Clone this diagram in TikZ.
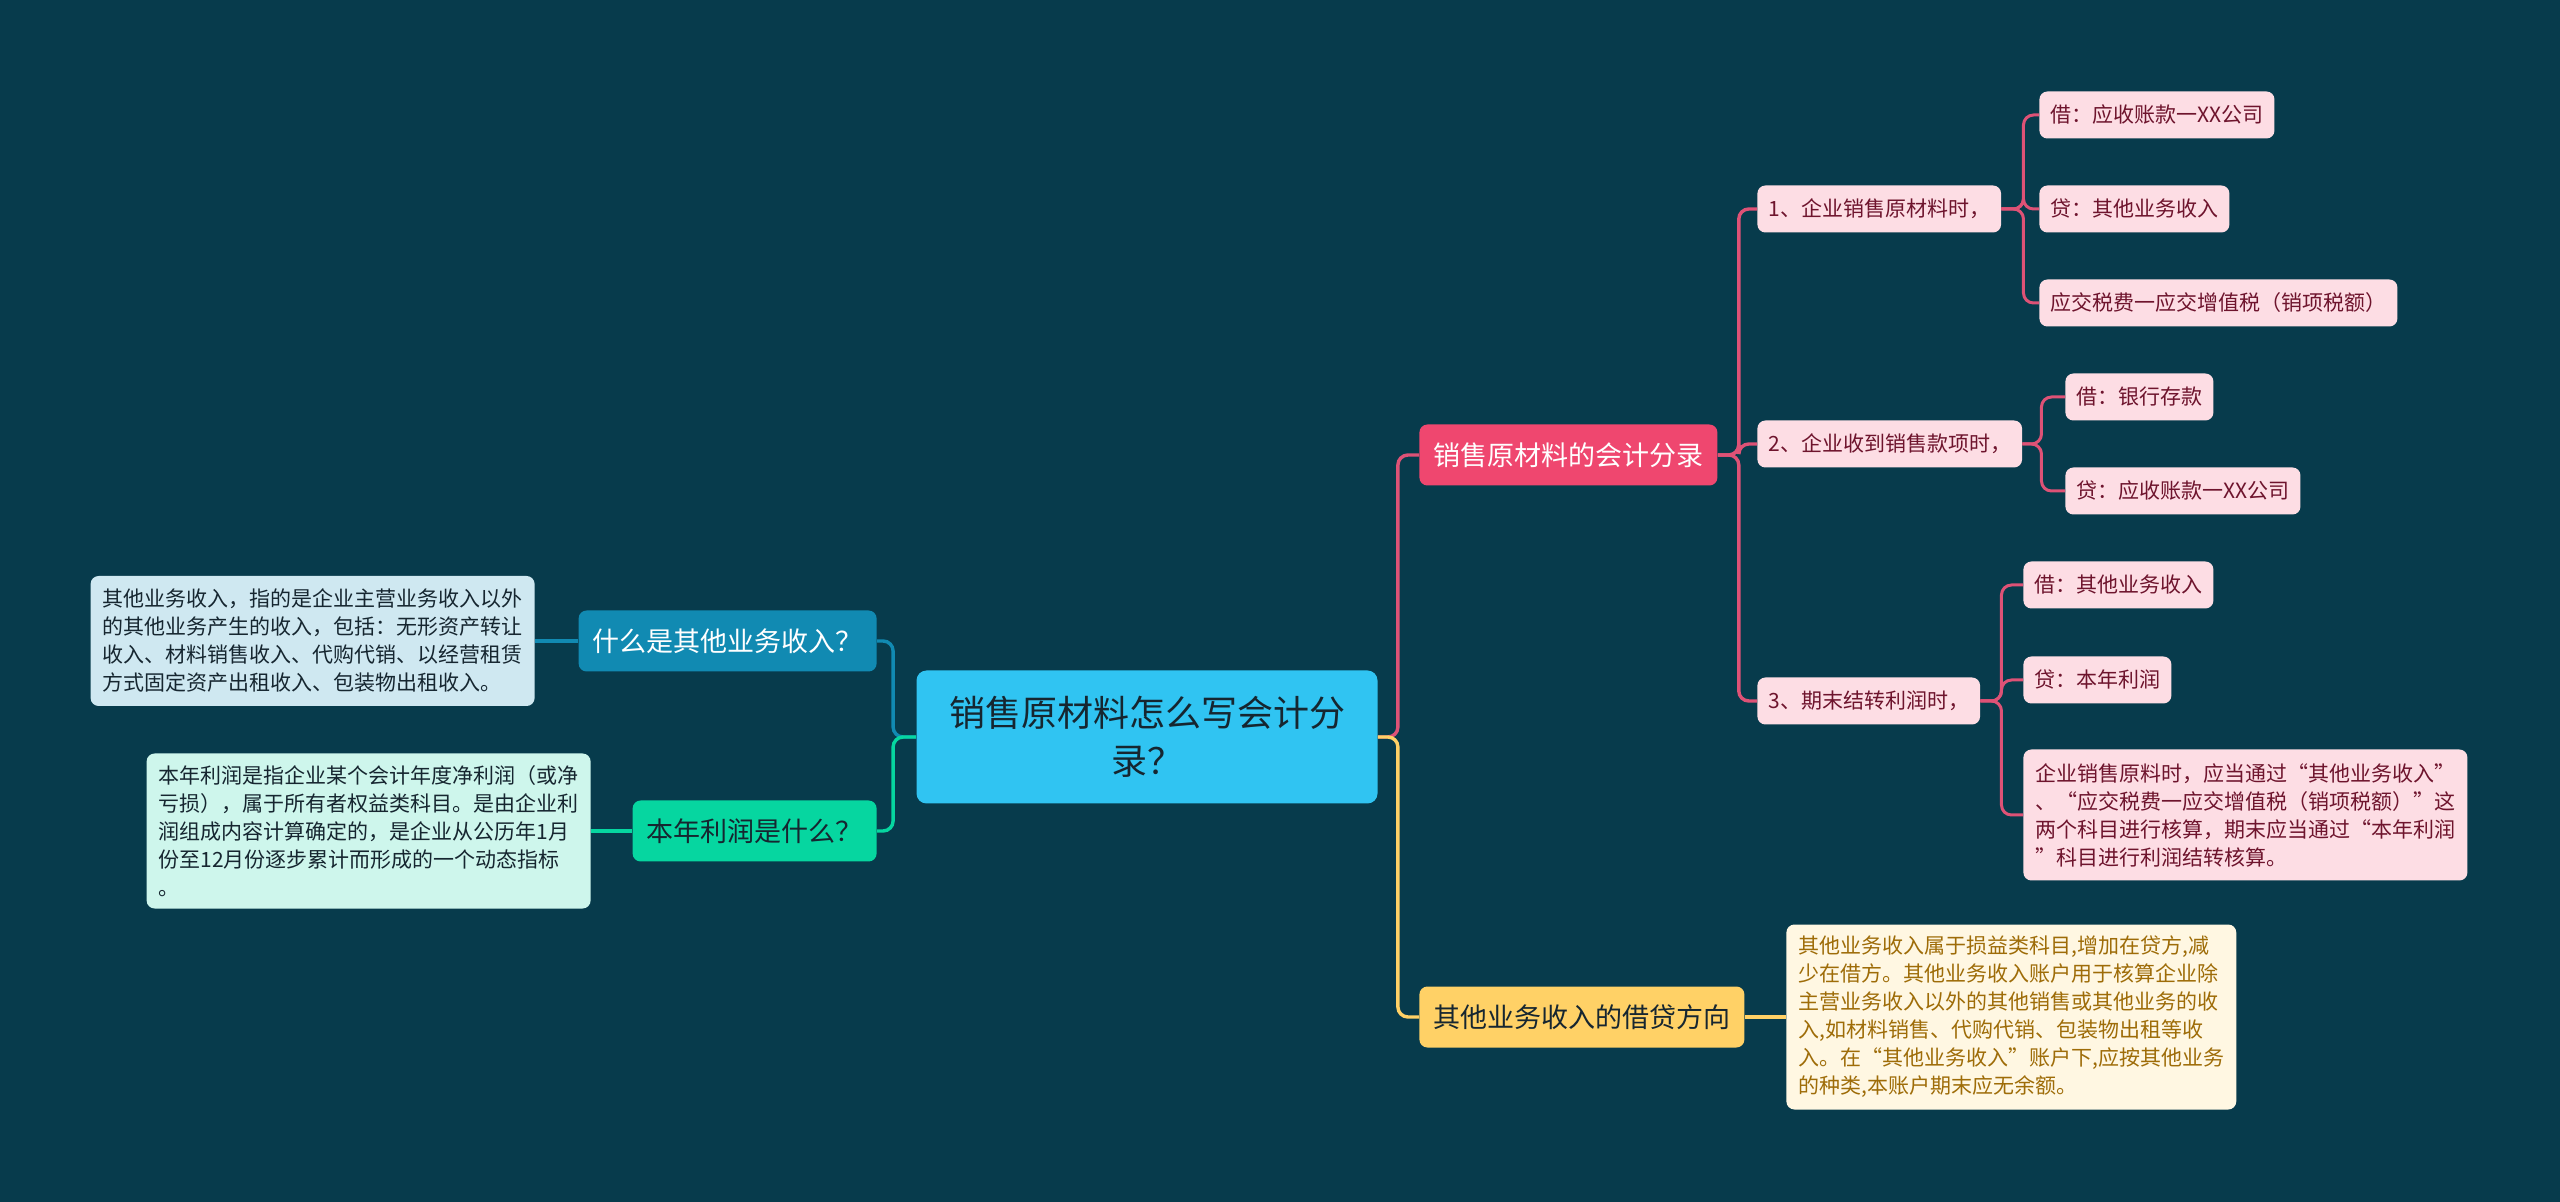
\documentclass[tikz,border=0pt]{standalone}
\usepackage{fontspec}
\setmainfont{Noto Sans CJK SC}
\usetikzlibrary{positioning}
\definecolor{bgDark}{RGB}{7,59,76}
\definecolor{rootBlue}{RGB}{48,196,242}
\definecolor{mapRed}{RGB}{239,71,111}
\definecolor{mapYel}{RGB}{255,209,102}
\definecolor{mapGrn}{RGB}{6,214,160}
\definecolor{mapBlu}{RGB}{17,138,178}
\definecolor{leafPink}{RGB}{253,221,228}
\definecolor{leafText}{RGB}{110,20,45}
\definecolor{noteYel}{RGB}{255,247,226}
\definecolor{noteYelText}{RGB}{158,108,8}
\definecolor{noteBlu}{RGB}{207,232,241}
\definecolor{noteGrn}{RGB}{206,246,236}
\definecolor{darkText}{RGB}{22,38,48}
\definecolor{linkPink}{RGB}{222,82,118}
\tikzstyle{rootbox} = [fill=rootBlue, text=darkText, rounded corners=5pt, align=center, minimum width=230.5pt, minimum height=66.5pt, font=\fontsize{18}{24}\selectfont]
\tikzstyle{topic}   = [rounded corners=4pt, inner xsep=7pt, inner ysep=0pt, minimum height=30.5pt, text height=11.9pt, text depth=1.6pt, font=\fontsize{13.5}{16}\selectfont]
\tikzstyle{leaf}    = [fill=leafPink, text=leafText, rounded corners=4pt, inner xsep=5.5pt, inner ysep=0pt, minimum height=23.5pt, text height=9.2pt, text depth=1.3pt, anchor=west]
\tikzstyle{note}    = [rounded corners=4pt, inner xsep=6pt, inner ysep=5pt, align=left, text=darkText]
\tikzstyle{link}    = [line width=1.7pt, rounded corners=5pt]
\tikzstyle{leaflink} = [linkPink, line width=1.5pt, rounded corners=5pt]

\begin{document}
\begin{tikzpicture}[x=0.5pt, y=-0.5pt, font=\fontsize{10.5}{14}\selectfont]
% canvas: 2560 x 1202 map pixels, y grows downwards
\fill[bgDark] (0,0) rectangle (2560,1202);
\useasboundingbox (0,0) rectangle (2560,1202);
% centre topic
\node[rootbox] (root) at (1147,737) {销售原材料怎么写会计分\\录？};
% left branch
\node[topic, fill=mapBlu, text=white, anchor=east] (qOther) at (877,641) {什么是其他业务收入？};
\node[topic, fill=mapGrn, text=darkText, anchor=east] (qProfit) at (877,831) {本年利润是什么？};
\node[note, fill=noteBlu, minimum height=65pt, anchor=east] (nOther) at (535,641) {其他业务收入，指的是企业主营业务收入以外\\的其他业务产生的收入，包括：无形资产转让\\收入、材料销售收入、代购代销、以经营租赁\\方式固定资产出租收入、包装物出租收入。};
\node[note, fill=noteGrn, minimum height=77.5pt, anchor=east] (nProfit) at (591,831) {本年利润是指企业某个会计年度净利润（或净\\亏损），属于所有者权益类科目。是由企业利\\润组成内容计算确定的，是企业从公历年1月\\份至12月份逐步累计而形成的一个动态指标\\。};
% right branch
\node[topic, fill=mapRed, text=white, anchor=west] (tEntry) at (1419,455) {销售原材料的会计分录};
\node[topic, fill=mapYel, text=darkText, anchor=west] (tSide) at (1419,1017) {其他业务收入的借贷方向};
\node[note, fill=noteYel, text=noteYelText, minimum height=92.5pt, anchor=west] (nSide) at (1786,1017) {其他业务收入属于损益类科目,增加在贷方,减\\少在借方。其他业务收入账户用于核算企业除\\主营业务收入以外的其他销售或其他业务的收\\入,如材料销售、代购代销、包装物出租等收\\入。在“其他业务收入”账户下,应按其他业务\\的种类,本账户期末应无余额。};
% entry steps
\node[leaf] (step1) at (1757,209) {1、企业销售原材料时，};
\node[leaf] (step2) at (1757,444) {2、企业收到销售款项时，};
\node[leaf] (step3) at (1757,701) {3、期末结转利润时，};
\node[leaf] (a1) at (2039,115) {借：应收账款一XX公司};
\node[leaf] (a2) at (2039,209) {贷：其他业务收入};
\node[leaf] (a3) at (2039,303) {应交税费一应交增值税（销项税额）};
\node[leaf] (b1) at (2065,397) {借：银行存款};
\node[leaf] (b2) at (2065,491) {贷：应收账款一XX公司};
\node[leaf] (c1) at (2023,585) {借：其他业务收入};
\node[leaf] (c2) at (2023,680) {贷：本年利润};
\node[note, fill=leafPink, text=leafText, minimum height=65.5pt, anchor=west] (c3) at (2023,815) {企业销售原料时，应当通过“其他业务收入”\\、“应交税费一应交增值税（销项税额）”这\\两个科目进行核算，期末应当通过“本年利润\\”科目进行利润结转核算。};
% connectors
\draw[link, mapBlu] (root.west) -- ++(-23,0) |- (qOther.east);
\draw[link, mapGrn] (root.west) -- ++(-23,0) |- (qProfit.east);
\draw[link, mapBlu] (qOther.west) -- (nOther.east);
\draw[link, mapGrn] (qProfit.west) -- (nProfit.east);
\draw[link, linkPink] (root.east) -- ++(20,0) |- (tEntry.west);
\draw[link, mapYel] (root.east) -- ++(20,0) |- (tSide.west);
\draw[link, mapYel] (tSide.east) -- (nSide.west);
\foreach \s in {step1,step2,step3}
  \draw[link, linkPink] (tEntry.east) -- ++(21,0) |- (\s.west);
\foreach \l in {a1,a2,a3}
  \draw[leaflink] (step1.east) -- ++(22,0) |- (\l.west);
\foreach \l in {b1,b2}
  \draw[leaflink] (step2.east) -- ++(19,0) |- (\l.west);
\foreach \l in {c1,c2,c3}
  \draw[leaflink] (step3.east) -- ++(21,0) |- (\l.west);
\end{tikzpicture}
\end{document}
